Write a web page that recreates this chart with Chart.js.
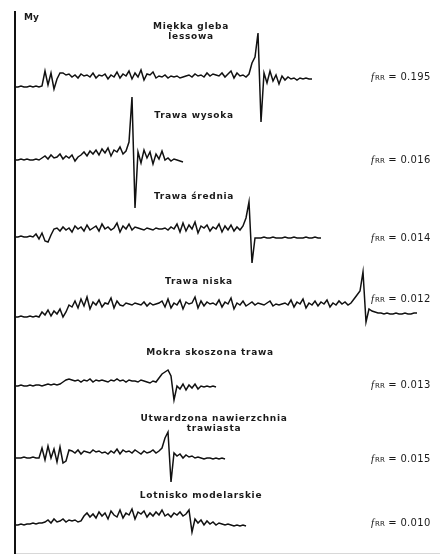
<!DOCTYPE html>
<html>
<head>
<meta charset="utf-8">
<script src="https://cdn.jsdelivr.net/npm/chart.js@4.4.1/dist/chart.umd.min.js"></script>
<style>
  html, body { margin: 0; padding: 0; background: #fff; }
  #wrap { width: 440px; height: 554px; position: relative; }
</style>
</head>
<body>
<div id="wrap"><canvas id="traces"></canvas></div>
<script>
// nazwy nawierzchni i współczynniki oporu toczenia
const surfaces = [
  ['Miękka gleba', 'lessowa'],
  ['Trawa wysoka'],
  ['Trawa średnia'],
  ['Trawa niska'],
  ['Mokra skoszona trawa'],
  ['Utwardzona nawierzchnia', 'trawiasta'],
  ['Lotnisko modelarskie']
];
const frr = ['0.195', '0.016', '0.014', '0.012', '0.013', '0.015', '0.010'];

// krok próbkowania (oś czasu)
const dt = 3;

// przebiegi My (względem poziomu startowego)
const my1 = [0,0,1,0,0,1,0,1,0,1,
  16,2,14,-2,8,14,
  14,12,13,10,12,9,13,11,12,10,
  14,9,12,11,13,8,12,10,15,9,
  13,11,16,8,14,10,17,7,13,12,
  15,9,11,10,12,9,11,10,11,9,
  10,11,12,10,13,11,12,10,14,11,
  13,12,11,14,10,13,16,9,14,11,
  12,10,13,
  24,30,54,-35,14,
  4,16,6,12,3,11,7,10,8,9,7,9,8,9,8,8];
const my2 = [0,0,1,0,1,0,0,1,0,
  2,4,1,5,2,3,6,1,4,2,5,-1,3,
  5,8,4,9,6,10,5,11,7,12,4,10,8,13,6,9,
  18,63,-48,8,
  -3,10,2,8,-4,6,1,9,0,2,-1,1,0,-1,-2];
const my3 = [0,0,1,0,0,1,0,
  3,-2,4,-4,-5,2,
  8,
  9,6,10,7,9,5,11,8,10,6,
  12,7,9,11,6,13,8,10,7,9,
  14,5,11,8,13,7,10,9,8,7,
  9,8,7,9,8,8,9,7,10,8,
  13,5,14,6,12,8,15,4,11,9,
  12,6,10,8,13,5,11,7,12,6,
  10,7,11,
  19,35,-26,-1,
  -1,-1,0,-1,-1,0,-1,-1,-1,0,-1,-1,0,-1,-1,-1,0,-1,-1,0,-1,-1];
const my4 = [0,0,1,0,0,1,0,1,0,
  5,2,7,1,6,3,8,0,5,
  12,
  10,16,9,18,11,20,8,15,12,17,
  10,14,13,19,9,16,12,11,14,13,
  12,14,13,12,15,11,14,12,13,14,
  16,10,18,9,14,12,17,8,15,13,
  14,20,9,16,11,15,13,14,12,17,
  10,15,13,19,8,14,12,16,11,13,
  15,12,14,13,12,14,16,11,13,12,
  13,14,12,17,10,15,13,18,9,14,
  12,16,11,15,13,17,10,14,12,16,
  13,15,12,14,18,
  22,26,45,-5,8,
  6,5,4,4,3,4,3,3,4,3,3,4,3,3,4,4];
const my5 = [0,0,1,0,0,1,0,1,1,0,1,2,1,2,1,
  2,4,6,
  7,6,5,6,4,6,5,7,4,6,5,6,5,4,6,5,7,5,6,4,6,5,5,4,6,5,4,3,5,4,
  8,12,14,16,10,-14,
  0,-3,2,-4,1,-2,2,-3,0,-1,0,-1,0,-1];
const my6 = [0,0,0,1,0,0,1,0,0,
  10,-2,12,0,9,-4,11,-5,-3,
  8,
  7,5,8,4,7,6,5,8,6,7,5,6,4,7,5,9,4,8,6,7,5,8,6,4,7,5,6,8,5,7,
  10,20,26,-24,5,
  2,4,0,3,1,2,0,1,0,-1,0,0,-1,0,-1,0,-1];
const my7 = [0,0,1,0,1,1,2,1,2,2,
  3,5,2,6,3,4,6,3,5,4,5,3,4,
  9,
  12,8,11,7,13,9,12,6,14,10,8,15,7,12,10,16,6,13,11,14,8,12,9,13,10,15,9,11,8,12,10,13,9,11,
  15,-7,6,
  2,5,0,4,1,3,0,2,1,0,1,0,-1,0,-1,0,-1];
const series = [my1, my2, my3, my4, my5, my6, my7];

// rozmieszczenie przebiegów jeden pod drugim (przesunięcie osi y)
const offsets = [466, 393, 316, 236, 167, 95, 28];
// pozycje podpisów (środek x, y linii) i etykiet fRR (y)
const titlePos = [[191, 27], [194, 116], [194, 197], [199, 282], [210, 353], [214, 419], [201, 496]];
const frrY = [77, 160, 238, 299, 385, 459, 523];

const datasets = series.map((vals, k) => ({
  data: vals.map((v, i) => ({ x: i * dt, y: v + offsets[k] })),
  borderColor: '#111',
  borderWidth: 1.5,
  pointRadius: 0,
  tension: 0,
  fill: false
}));

const labelsPlugin = {
  id: 'labels',
  afterDraw(chart) {
    const ctx = chart.ctx;
    ctx.save();
    ctx.fillStyle = '#1a1a1a';
    ctx.textBaseline = 'middle';
    ctx.font = 'bold 9px "DejaVu Sans", sans-serif';
    ctx.textAlign = 'left';
    ctx.fillText('My', 24, 18);

    ctx.font = 'bold 9px "DejaVu Sans", sans-serif';
    ctx.letterSpacing = '0.7px';
    ctx.textAlign = 'center';
    surfaces.forEach((lines, k) => {
      const [cx, cy] = titlePos[k];
      lines.forEach((s, j) => ctx.fillText(s, cx, cy + j * 10));
    });

    ctx.textAlign = 'left';
    frr.forEach((v, k) => {
      let x = 371;
      const y = frrY[k];
      ctx.letterSpacing = '0px';
      ctx.font = 'italic 11px "Liberation Serif", serif';
      ctx.fillText('f', x, y);
      x += ctx.measureText('f').width + 1;
      ctx.font = '7px "DejaVu Sans", sans-serif';
      ctx.fillText('RR', x, y + 1);
      x += ctx.measureText('RR').width;
      ctx.font = '10px "DejaVu Sans", sans-serif';
      ctx.letterSpacing = '0.3px';
      ctx.fillText(' = ' + v, x, y);
    });
    ctx.restore();
  }
};

new Chart(document.getElementById('traces'), {
  type: 'line',
  data: { datasets },
  options: {
    responsive: true,
    maintainAspectRatio: false,
    animation: false,
    layout: { padding: { left: 15, top: 12, right: 0, bottom: 1 } },
    scales: {
      x: {
        type: 'linear',
        min: 0,
        max: 425,
        ticks: { display: false },
        grid: { display: false, drawTicks: false },
        border: { display: true, color: '#d8d8d8', width: 1 }
      },
      y: {
        min: 0,
        max: 541,
        ticks: { display: false },
        grid: { display: false, drawTicks: false },
        border: { display: true, color: '#111', width: 2 }
      }
    },
    plugins: {
      legend: { display: false },
      tooltip: { enabled: false }
    }
  },
  plugins: [labelsPlugin]
});
</script>
</body>
</html>
